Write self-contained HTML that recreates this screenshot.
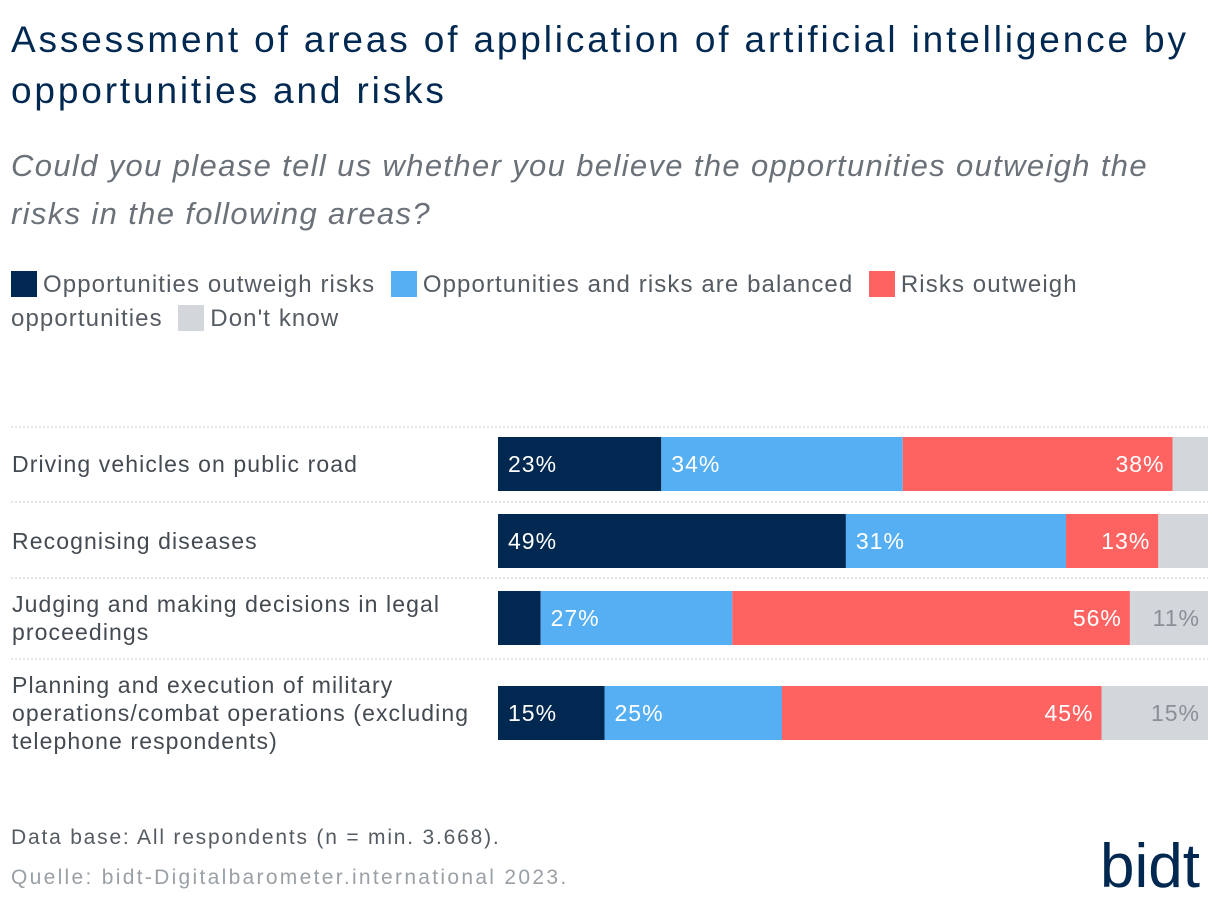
<!DOCTYPE html>
<html><head><meta charset="utf-8"><style>
body{margin:0;width:1220px;height:906px;background:#fff;font-family:"Liberation Sans",sans-serif;position:relative;overflow:hidden}
.abs{position:absolute}
h1{position:absolute;left:11px;top:14px;margin:0;font-size:37px;font-weight:normal;color:#002850;line-height:51px;width:1210px;letter-spacing:2.85px}
.sub{left:11px;top:142px;font-size:31px;font-style:italic;color:#6b7178;line-height:48px;width:1190px;letter-spacing:1.35px}
.leg{left:11px;top:268px;font-size:24px;color:#555b62;line-height:34px;width:1100px;letter-spacing:1.1px}
.sw{display:inline-block;width:26px;height:26px;vertical-align:-5px;margin-right:6px}
.foot{left:11px;font-size:21px;letter-spacing:1.8px}
</style></head><body>
<h1>Assessment of areas of application of artificial intelligence by opportunities and risks</h1>
<div class="abs sub">Could you please tell us whether you believe the opportunities outweigh the risks in the following areas?</div>
<div class="abs leg">
<span><span class="sw" style="background:#002850"></span>Opportunities outweigh risks</span>&nbsp;
<span><span class="sw" style="background:#56aff3"></span>Opportunities and risks are balanced</span>&nbsp;
<span><span class="sw" style="background:#ff6361"></span>Risks outweigh opportunities</span>&nbsp;
<span><span class="sw" style="background:#d3d6da"></span>Don't know</span>
</div>
<svg id="chart" class="abs" style="left:0;top:0" width="1220" height="906"></svg>
<div class="abs foot" style="top:826px;color:#555b62">Data base: All respondents (n = min. 3.668).</div>
<div class="abs foot" style="top:866px;color:#9aa0a6;letter-spacing:2.3px">Quelle: bidt-Digitalbarometer.international 2023.</div>
<div class="abs" style="left:1100px;top:832px;font-size:62px;color:#002850;letter-spacing:0px;line-height:70px">bidt</div>
<script>
const categories=["Driving vehicles on public road","Recognising diseases","Judging and making decisions in legal proceedings","Planning and execution of military operations/combat operations (excluding telephone respondents)"];
const opp=[23,49,6,15];
const bal=[34,31,27,25];
const risk=[38,13,56,45];
const dk=[5,7,11,15];
const series=[opp,bal,risk,dk];
const colors=["#002850","#56aff3","#ff6361","#d3d6da"];
const textCol=["#fff","#fff","#fff","#8a9096"];
const labelLines=[["Driving vehicles on public road"],["Recognising diseases"],["Judging and making decisions in legal","proceedings"],["Planning and execution of military","operations/combat operations (excluding","telephone respondents)"]];
const barTops=[437,514,591,686], barH=54, x0=498, W=710;
const sepY=[427,502,578,659];
const xs=v=>v/100*W;
const svg=document.getElementById('chart');
const NS="http://www.w3.org/2000/svg";
sepY.forEach((y,i)=>{const l=document.createElementNS(NS,'line');
l.setAttribute('x1',11);l.setAttribute('x2',1208);l.setAttribute('y1',y);l.setAttribute('y2',y);
l.setAttribute('stroke','#c8ccd0');l.setAttribute('stroke-dasharray','2,2');


svg.appendChild(l);});
categories.forEach((c,i)=>{
 let x=x0;const y=barTops[i];
 series.forEach((s,k)=>{
  const w=xs(s[i]);
  const r=document.createElementNS(NS,'rect');
  r.setAttribute('x',x);r.setAttribute('y',y);r.setAttribute('width',w);r.setAttribute('height',barH);r.setAttribute('fill',colors[k]);
  
  
  svg.appendChild(r);
  if(s[i]>=10){const t=document.createElementNS(NS,'text');
   const right=(k>=2);
   t.setAttribute('x',right?x+w-8:x+10);t.setAttribute('y',y+barH/2+8);
   t.setAttribute('text-anchor',right?'end':'start');
   t.setAttribute('font-size','23');t.setAttribute('font-family','Liberation Sans, sans-serif');t.setAttribute('fill',textCol[k]);
   t.setAttribute('letter-spacing','1');
   t.textContent=s[i]+'%';
   
   
   svg.appendChild(t);}
  x+=w;});
 const lines=labelLines[i];const cy=y+barH/2;
 lines.forEach((ln,j)=>{const t=document.createElementNS(NS,'text');
  t.setAttribute('x',12);t.setAttribute('y',cy+8+(j-(lines.length-1)/2)*28);
  t.setAttribute('font-size','23');t.setAttribute('font-family','Liberation Sans, sans-serif');t.setAttribute('fill','#444a51');
  t.setAttribute('letter-spacing','1.1');
  t.textContent=ln;
  
  
  svg.appendChild(t);});
});
</script>
</body></html>
